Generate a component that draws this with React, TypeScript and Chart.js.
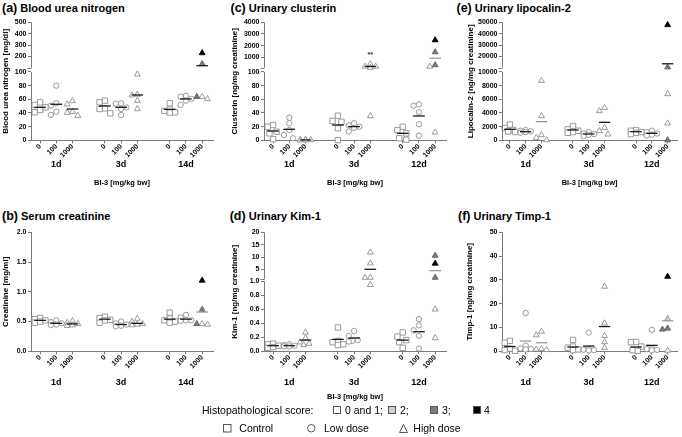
import React, { useEffect, useRef } from 'react';
import { Chart, registerables, LinearScale } from 'chart.js';

Chart.register(...registerables);

const FONT = '"Liberation Sans", Arial, Helvetica, sans-serif';

// ---------- categories / tick labels ----------
const DOSE_LABELS = ['0', '100', '1000'];
const BLOOD_DAYS = ['1d', '3d', '14d'];
const URINE_DAYS = ['1d', '3d', '12d'];
const GROUP_POS = [1, 2, 3, 5, 6, 7, 9, 10, 11];
const DAY_POS = [2, 6, 10];
const X_AXIS_TITLE = 'BI-3 [mg/kg bw]';

// ---------- (a) Blood urea nitrogen ----------
const bunTicks = [0, 20, 40, 60, 80, 100, 200, 300, 400, 500];
const bunValues = [
  [55.6, 51.7, 48.3, 44.4, 41],
  [80, 54.2, 50.7, 41.9, 37],
  [57.5, 52.7, 41.9, 40.4, 36],
  [58, 55.6, 46.8, 45.8, 39.5],
  [54, 53.5, 48, 46, 37],
  [96.6, 67, 66, 58, 45.8],
  [54.2, 45, 43, 41, 40.5],
  [65.3, 63.8, 60.5, 58, 51.7],
  [229.6, 133.7, 63.8, 63.8, 60.5],
];
const bunMeans = [48.3, 52.7, 45.8, 50.2, 48.3, 66.3, 45.3, 60.5, 118];
const bunScores = [4, 3, 0, 3, 0];

// ---------- (b) Serum creatinine ----------
const creaTicks = [0, 0.5, 1, 1.5, 2];
const creaValues = [
  [0.56, 0.54, 0.52, 0.5, 0.48],
  [0.52, 0.49, 0.47, 0.45, 0.44],
  [0.51, 0.48, 0.46, 0.44, 0.43],
  [0.58, 0.56, 0.53, 0.52, 0.48],
  [0.5, 0.47, 0.45, 0.43, 0.42],
  [0.55, 0.5, 0.46, 0.45, 0.44],
  [0.65, 0.55, 0.52, 0.5, 0.48],
  [0.61, 0.57, 0.52, 0.52, 0.51],
  [1.19, 0.7, 0.46, 0.45, 0.46],
];
const creaMeans = [0.52, 0.47, 0.46, 0.54, 0.45, 0.47, 0.54, 0.54, 0.66];
const creaScores = [4, 3, 0, 0, 3];

// ---------- (c) Urinary clusterin ----------
const clusTicks = [0, 20, 40, 60, 80, 100, 1000, 2000, 3000, 4000];
const clusValues = [
  [22.4, 19.9, 12.6, 10.2, 1.5],
  [33, 24.9, 15, 7.8, 2.9],
  [1.2, 0.8, 0.5, 0.3, 0.2],
  [36, 28.3, 27, 17.6, 0.3],
  [25, 22, 20, 18, 13],
  [417, 206, 206, 117, 35.6],
  [19.9, 15, 10.2, 3, 1],
  [52.7, 50.7, 41, 23.4, 6.7],
  [2474, 1441, 329, 206, 11.7],
];
const clusMeans = [13.6, 16.1, 0.5, 22.4, 20, 206, 10.2, 35.6, 912];
const clusScores = [4, 3, 3, 0, 0];
const clusNotes = [{ group: 5, value: 1200, text: '**' }];

// ---------- (d) Urinary Kim-1 ----------
const kimTicks = [0, 0.2, 0.4, 0.6, 0.8, 1.0, 5, 10, 15, 20];
const kimValues = [
  [0.11, 0.1, 0.08, 0.06, 0.05],
  [0.1, 0.09, 0.08, 0.07, 0.07],
  [0.27, 0.19, 0.13, 0.11, 0.09],
  [0.34, 0.15, 0.13, 0.1, 0.09],
  [0.29, 0.22, 0.16, 0.15, 0.14],
  [11.9, 7.5, 1.7, 1.7, 0.95],
  [0.27, 0.21, 0.16, 0.13, 0.05],
  [0.46, 0.37, 0.3, 0.22, 0.04],
  [10.6, 7.4, 1.7, 0.6, 0.19],
];
const kimMeans = [0.08, 0.08, 0.16, 0.17, 0.19, 5.05, 0.16, 0.28, 4.5];
const kimScores = [3, 4, 3, 0, 0];

// ---------- (e) Urinary lipocalin-2 ----------
const lcnTicks = [0, 2000, 4000, 6000, 8000, 10000, 20000, 30000, 40000, 50000];
const lcnValues = [
  [2300, 1800, 1500, 1300, 1200],
  [1500, 1400, 1300, 1200, 1100],
  [8730, 3560, 780, 380, 30],
  [2100, 1600, 1400, 1200, 1100],
  [1200, 1000, 900, 800, 600],
  [4770, 4290, 1850, 1360, 880],
  [1500, 1400, 1200, 1100, 900],
  [1400, 1200, 1000, 800, 700],
  [47700, 10500, 6780, 2490, 30],
];
const lcnMeans = [1610, 1260, 2730, 1510, 920, 2630, 1260, 1020, 13480];
const lcnScores = [4, 3, 0, 0, 3];

// ---------- (f) Urinary Timp-1 ----------
const timpTicks = [0, 10, 20, 30, 40, 50];
const timpValues = [
  [4.4, 3.6, 1.1, 0.5, 0.2],
  [16.1, 2.4, 1.2, 1.0, 0.8],
  [8.3, 6.8, 1.0, 0.8, 0.6],
  [4.8, 2.0, 1.5, 0.8, 0.5],
  [7.9, 1.0, 0.7, 0.5, 0.4],
  [27.2, 11.8, 6.5, 3.9, 1.5],
  [3.9, 3.8, 2.0, 0.5, 0.2],
  [9.0, 1.2, 1.0, 0.6, 0.4],
  [31.4, 13.7, 9.6, 9.2, 0.3],
];
const timpMeans = [2.0, 4.3, 3.6, 1.8, 2.2, 10.4, 1.8, 2.5, 12.8];
const timpScores = [4, 2, 3, 3, 0];

// ---------- styling ----------
const AXIS = '#7a7a7a';
const FILL = ['#ffffff', '#ffffff', '#cfcfcf', '#7d7d7d', '#000000'];
const STROKE = ['#8f8f8f', '#8f8f8f', '#9a9a9a', '#5e5e5e', '#000000'];
const SHAPES = ['rect', 'circle', 'triangle'];
const RADIUS: Record<string, number> = { rect: 3.8, circle: 2.7, triangle: 3.4 };
const X_HEIGHT = 18;
const HALF_LINE = 0.36;

type Brk = { min: number; max: number; lowMax?: number; lowTop?: number; highBot?: number };
interface PanelDef {
  key: string; tag: string; title: string; yTitle: string;
  values: number[][]; means: number[]; scores: number[]; days: string[];
  ticks: number[]; fmt: (v: number) => string; brk: Brk; grayMeans: number[];
  left: number; top: number; width: number; height: number;
  padTop: number; padRight: number; yWidth: number; yTitlePad: number;
  xMin: number; xMax: number; x2Height: number; x2Pad: number;
  showXTitle: boolean; xTitlePad: number; titleLeft: number; titleTop: number;
  notes?: { group: number; value: number; text: string }[];
}

const intFmt = (v: number) => String(v);

const TOP = { top: 14, height: 180, padTop: 8.3, x2Height: 35.7, x2Pad: 0.5, xTitlePad: 6.2, titleTop: 0 };
const BOT = { top: 222, height: 185, padTop: 10.3, x2Height: 37.7, x2Pad: 7.6, xTitlePad: 5.5, titleTop: 208 };
const COL1 = { left: 0, width: 222, padRight: 9, yWidth: 31, xMin: 0.44, xMax: 11.67 };
const COL2 = { left: 230, width: 222, padRight: 6, yWidth: 34, xMin: 0.44, xMax: 11.67 };
const COL3 = { left: 456, width: 226, padRight: 0, yWidth: 46, xMin: 0.5, xMax: 11.6 };

const PANELS: PanelDef[] = [
  {
    key: 'a', tag: '(a)', title: 'Blood urea nitrogen', yTitle: 'Blood urea nitrogen [mg/dl]',
    values: bunValues, means: bunMeans, scores: bunScores, days: BLOOD_DAYS, ticks: bunTicks, fmt: intFmt,
    brk: { min: 0, max: 500, lowMax: 100, lowTop: 0.579, highBot: 0.615 }, grayMeans: [],
    ...COL1, ...TOP, yTitlePad: 0.7, showXTitle: true, titleLeft: 2,
  },
  {
    key: 'c', tag: '(c)', title: 'Urinary clusterin', yTitle: 'Clusterin [ng/mg creatinine]',
    values: clusValues, means: clusMeans, scores: clusScores, days: URINE_DAYS, ticks: clusTicks, fmt: intFmt,
    brk: { min: 0, max: 4000, lowMax: 100, lowTop: 0.579, highBot: 0.615 }, grayMeans: [8],
    ...COL2, ...TOP, yTitlePad: 0.2, showXTitle: true, titleLeft: 230.5, notes: clusNotes,
  },
  {
    key: 'e', tag: '(e)', title: 'Urinary lipocalin-2', yTitle: 'Lipocalin-2 [ng/mg creatinine]',
    values: lcnValues, means: lcnMeans, scores: lcnScores, days: URINE_DAYS, ticks: lcnTicks, fmt: intFmt,
    brk: { min: 0, max: 50000, lowMax: 10000, lowTop: 0.579, highBot: 0.615 }, grayMeans: [2],
    ...COL3, ...TOP, yTitlePad: 9.9, showXTitle: true, titleLeft: 456.5,
  },
  {
    key: 'b', tag: '(b)', title: 'Serum creatinine', yTitle: 'Creatinine [mg/ml]',
    values: creaValues, means: creaMeans, scores: creaScores, days: BLOOD_DAYS, ticks: creaTicks,
    fmt: (v: number) => v.toFixed(1),
    brk: { min: 0, max: 2 }, grayMeans: [8],
    ...COL1, ...BOT, yTitlePad: 0.7, showXTitle: false, titleLeft: 2,
  },
  {
    key: 'd', tag: '(d)', title: 'Urinary Kim-1', yTitle: 'Kim-1 [ng/mg creatinine]',
    values: kimValues, means: kimMeans, scores: kimScores, days: URINE_DAYS, ticks: kimTicks,
    fmt: (v: number) => (v <= 1 ? v.toFixed(1) : String(v)),
    brk: { min: 0, max: 20, lowMax: 1, lowTop: 0.588, highBot: 0.605 }, grayMeans: [8],
    ...COL2, ...BOT, yTitlePad: 0.2, showXTitle: true, titleLeft: 229.7,
  },
  {
    key: 'f', tag: '(f)', title: 'Urinary Timp-1', yTitle: 'Timp-1 [ng/mg creatinine]',
    values: timpValues, means: timpMeans, scores: timpScores, days: URINE_DAYS, ticks: timpTicks, fmt: intFmt,
    brk: { min: 0, max: 50 }, grayMeans: [1, 2, 8],
    ...COL3, ...BOT, yTitlePad: 8.7, showXTitle: false, titleLeft: 458,
  },
];

// ---------- broken y scale ----------
const panelCfg = new WeakMap<HTMLCanvasElement, PanelDef>();

function valueToFrac(b: Brk, v: number) {
  if (b.lowMax === undefined) return (v - b.min) / (b.max - b.min);
  if (v <= b.lowMax) return ((v - b.min) / (b.lowMax - b.min)) * (b.lowTop as number);
  const hb = b.highBot as number;
  return hb + ((v - b.lowMax) / (b.max - b.lowMax)) * (1 - hb);
}
function fracToValue(b: Brk, f: number) {
  if (b.lowMax === undefined) return b.min + f * (b.max - b.min);
  const lt = b.lowTop as number, hb = b.highBot as number;
  if (f <= lt) return b.min + (f / lt) * (b.lowMax - b.min);
  return b.lowMax + ((f - hb) / (1 - hb)) * (b.max - b.lowMax);
}

class BrokenLinearScale extends (LinearScale as any) {
  static id = 'brokenLinear';
  static defaults = {};
  buildTicks() {
    const p = panelCfg.get((this as any).chart.canvas) as PanelDef;
    return p.ticks.map((v) => ({ value: v }));
  }
  getPixelForValue(value: number) {
    const p = panelCfg.get((this as any).chart.canvas) as PanelDef;
    return (this as any).getPixelForDecimal(valueToFrac(p.brk, value));
  }
  getValueForPixel(pixel: number) {
    const p = panelCfg.get((this as any).chart.canvas) as PanelDef;
    return fracToValue(p.brk, (this as any).getDecimalForPixel(pixel));
  }
}
Chart.register(BrokenLinearScale as any);

const axisPlugin = {
  id: 'axisBreakNotes',
  afterDraw(chart: any) {
    const p = panelCfg.get(chart.canvas) as PanelDef;
    if (!p) return;
    const ctx = chart.ctx;
    const ys = chart.scales.y;
    const xs = chart.scales.x;
    ctx.save();
    if (p.brk.lowMax !== undefined) {
      const ax = Math.round(chart.chartArea.left - 0.5) + 0.5;
      const yLow = ys.getPixelForDecimal(p.brk.lowTop);
      const yHigh = ys.getPixelForDecimal(p.brk.highBot);
      ctx.strokeStyle = AXIS;
      ctx.lineWidth = 1;
      ctx.beginPath();
      ctx.moveTo(ax, chart.chartArea.bottom);
      ctx.lineTo(ax, yLow);
      ctx.moveTo(ax, yHigh);
      ctx.lineTo(ax, chart.chartArea.top);
      ctx.moveTo(ax - 4, Math.round(yHigh) + 0.5);
      ctx.lineTo(ax, Math.round(yHigh) + 0.5);
      ctx.stroke();
    }
    (p.notes || []).forEach((n) => {
      ctx.fillStyle = '#333';
      ctx.font = `bold 7px ${FONT}`;
      ctx.textAlign = 'center';
      ctx.textBaseline = 'middle';
      ctx.fillText(n.text, xs.getPixelForValue(GROUP_POS[n.group]), ys.getPixelForValue(n.value));
    });
    ctx.restore();
  },
};

// simple beeswarm: spread markers that would overlap
function swarm(values: number[], brk: Brk, plotH: number, unitPx: number) {
  const order = values.map((_, i) => i).sort((a, b) => values[b] - values[a]);
  const cands = [0, -0.22, 0.22, -0.11, 0.11, -0.33, 0.33];
  const placed: { x: number; y: number }[] = [];
  const offs = values.map(() => 0);
  const D = 5.4;
  for (const i of order) {
    const y = valueToFrac(brk, values[i]) * plotH;
    let best = 0, bestScore = Infinity;
    for (const c of cands) {
      let ov = 0;
      for (const q of placed) {
        const dx = Math.abs(q.x - c) * unitPx;
        const dy = Math.abs(q.y - y);
        if (dx < D && dy < D) ov += (D - dx) * (D - dy);
      }
      if (ov < bestScore - 1e-6) { bestScore = ov; best = c; }
      if (ov === 0) break;
    }
    offs[i] = best;
    placed.push({ x: best, y });
  }
  return offs;
}

function Panel({ p }: { p: PanelDef }) {
  const ref = useRef<HTMLCanvasElement>(null);
  useEffect(() => {
    const canvas = ref.current as HTMLCanvasElement;
    panelCfg.set(canvas, p);
    const plotH = p.height - p.padTop - X_HEIGHT - p.x2Height;
    const plotW = p.width - p.yWidth - p.padRight;
    const unitPx = plotW / (p.xMax - p.xMin);
    const datasets: any[] = [];
    p.means.forEach((m, g) => {
      datasets.push({
        type: 'line', xAxisID: 'x', yAxisID: 'y', order: 0,
        data: [{ x: GROUP_POS[g] - HALF_LINE, y: m }, { x: GROUP_POS[g] + HALF_LINE, y: m }],
        borderColor: p.grayMeans.includes(g) ? '#9a9a9a' : '#1a1a1a',
        borderWidth: 1.3, pointRadius: 0, clip: false, tension: 0,
      });
    });
    p.values.forEach((vals, g) => {
      const offs = swarm(vals, p.brk, plotH, unitPx);
      const sc = g === 8 ? p.scores : vals.map(() => 0);
      const shape = SHAPES[g % 3];
      datasets.push({
        type: 'scatter', xAxisID: 'x', yAxisID: 'y', order: 1,
        data: vals.map((v, i) => ({ x: GROUP_POS[g] + offs[i], y: v })),
        pointStyle: shape, pointRadius: RADIUS[shape],
        pointBackgroundColor: sc.map((s) => FILL[s]),
        pointBorderColor: sc.map((s) => STROKE[s]),
        pointBorderWidth: 0.9, clip: false, showLine: false,
      });
    });
    const tickFont = { family: FONT, size: 7, weight: 'bold' as const };
    const chart = new Chart(canvas, {
      type: 'scatter',
      data: { datasets },
      plugins: [axisPlugin],
      options: {
        responsive: false,
        maintainAspectRatio: false,
        animation: false,
        events: [],
        layout: { padding: { top: p.padTop, right: p.padRight, left: 0, bottom: 0 } },
        plugins: { legend: { display: false }, tooltip: { enabled: false }, title: { display: false } },
        scales: {
          x: {
            type: 'linear', position: 'bottom', axis: 'x', weight: 0, min: p.xMin, max: p.xMax,
            afterBuildTicks: (s: any) => { s.ticks = GROUP_POS.map((v) => ({ value: v })); },
            afterFit: (s: any) => { s.height = X_HEIGHT; },
            ticks: {
              autoSkip: false, minRotation: 45, maxRotation: 45, padding: -1, color: '#000', font: tickFont,
              callback: (v: any) => DOSE_LABELS[GROUP_POS.indexOf(Number(v)) % 3],
            },
            grid: { display: true, drawOnChartArea: false, drawTicks: true, tickLength: 3, color: AXIS },
            border: { display: true, color: AXIS, width: 1 },
          },
          x2: {
            type: 'linear', position: 'bottom', axis: 'x', weight: 1, min: p.xMin, max: p.xMax,
            afterBuildTicks: (s: any) => { s.ticks = DAY_POS.map((v) => ({ value: v })); },
            afterFit: (s: any) => { s.height = p.x2Height; },
            ticks: {
              autoSkip: false, minRotation: 0, maxRotation: 0, padding: p.x2Pad, color: '#000',
              font: { family: FONT, size: 9, weight: 'bold' },
              callback: (v: any) => p.days[DAY_POS.indexOf(Number(v))],
            },
            grid: { display: false, drawTicks: false },
            border: { display: false },
            title: {
              display: p.showXTitle, text: X_AXIS_TITLE, color: '#000',
              font: { family: FONT, size: 7.5, weight: 'bold' },
              padding: { top: 0, bottom: p.xTitlePad },
            },
          },
          y: {
            type: 'brokenLinear' as any, position: 'left', min: p.brk.min, max: p.brk.max,
            afterFit: (s: any) => { s.width = p.yWidth; },
            ticks: { autoSkip: false, padding: 1.5, color: '#000', font: tickFont, callback: (v: any) => p.fmt(Number(v)) },
            grid: { display: true, drawOnChartArea: false, drawTicks: true, tickLength: 3, color: AXIS },
            border: { display: p.brk.lowMax === undefined, color: AXIS, width: 1 },
            title: {
              display: true, text: p.yTitle, color: '#000',
              font: { family: FONT, size: 8, weight: 'bold' },
              padding: { top: p.yTitlePad, bottom: 0 },
            },
          } as any,
        },
      } as any,
    });
    return () => chart.destroy();
  }, [p]);

  return (
    <>
      <div
        style={{
          position: 'absolute', left: p.titleLeft, top: p.titleTop, lineHeight: '14px',
          whiteSpace: 'nowrap', fontWeight: 700, fontFamily: FONT, color: '#000',
        }}
      >
        <span style={{ fontSize: 12.5 }}>{p.tag}</span>
        <span style={{ fontSize: 11 }}> {p.title}</span>
      </div>
      <canvas
        ref={ref}
        width={p.width}
        height={p.height}
        style={{ position: 'absolute', left: p.left, top: p.top, width: p.width, height: p.height }}
      />
    </>
  );
}

function Icon({ shape, fill, x, cy, size }: { shape: string; fill: string; x: number; cy: number; size: number }) {
  const s = size;
  const stroke = '#555';
  return (
    <svg
      width={s + 2}
      height={s + 2}
      style={{ position: 'absolute', left: x - 1, top: cy - s / 2 - 1, overflow: 'visible' }}
    >
      {shape === 'rect' && <rect x={1.5} y={1.5} width={s - 1} height={s - 1} fill={fill} stroke={stroke} strokeWidth={1} />}
      {shape === 'circle' && <circle cx={1 + s / 2} cy={1 + s / 2} r={s / 2 - 0.5} fill={fill} stroke={stroke} strokeWidth={1} />}
      {shape === 'triangle' && (
        <polygon points={`${1 + s / 2},1.5 ${s + 0.5},${s + 0.5} 1.5,${s + 0.5}`} fill={fill} stroke={stroke} strokeWidth={1} />
      )}
    </svg>
  );
}

function LegendText({ x, cy, text }: { x: number; cy: number; text: string }) {
  return (
    <span
      style={{
        position: 'absolute', left: x, top: cy - 6.5, lineHeight: '13px', fontSize: 10.5,
        fontFamily: FONT, color: '#000', whiteSpace: 'nowrap',
      }}
    >
      {text}
    </span>
  );
}

const LEGEND_SCORE_LABELS = ['0 and 1;', '2;', '3;', '4'];
const LEGEND_SCORE_LEVELS = [0, 2, 3, 4];
const LEGEND_GROUP_LABELS = ['Control', 'Low dose', 'High dose'];

function Legend() {
  const r1 = 410;
  const r2 = 428;
  const boxX = [333, 388, 430, 472.7];
  const txtX = [345, 400, 442, 484];
  const gIconX = [222.7, 307.3, 399.3];
  const gTxtX = [239.3, 324, 413.3];
  return (
    <>
      <LegendText x={202} cy={r1} text="Histopathological score:" />
      {LEGEND_SCORE_LABELS.map((t, i) => (
        <React.Fragment key={t}>
          <Icon shape="rect" fill={FILL[LEGEND_SCORE_LEVELS[i]]} x={boxX[i]} cy={r1} size={8} />
          <LegendText x={txtX[i]} cy={r1} text={t} />
        </React.Fragment>
      ))}
      {LEGEND_GROUP_LABELS.map((t, i) => (
        <React.Fragment key={t}>
          <Icon shape={SHAPES[i]} fill="#ffffff" x={gIconX[i]} cy={r2} size={i === 2 ? 9 : 8.5} />
          <LegendText x={gTxtX[i]} cy={r2} text={t} />
        </React.Fragment>
      ))}
    </>
  );
}

export default function App() {
  return (
    <div
      style={{
        position: 'absolute', left: 0, top: 0, width: 682, height: 437,
        background: '#ffffff', overflow: 'hidden', fontFamily: FONT,
      }}
    >
      {PANELS.map((p) => (
        <Panel key={p.key} p={p} />
      ))}
      <Legend />
    </div>
  );
}
